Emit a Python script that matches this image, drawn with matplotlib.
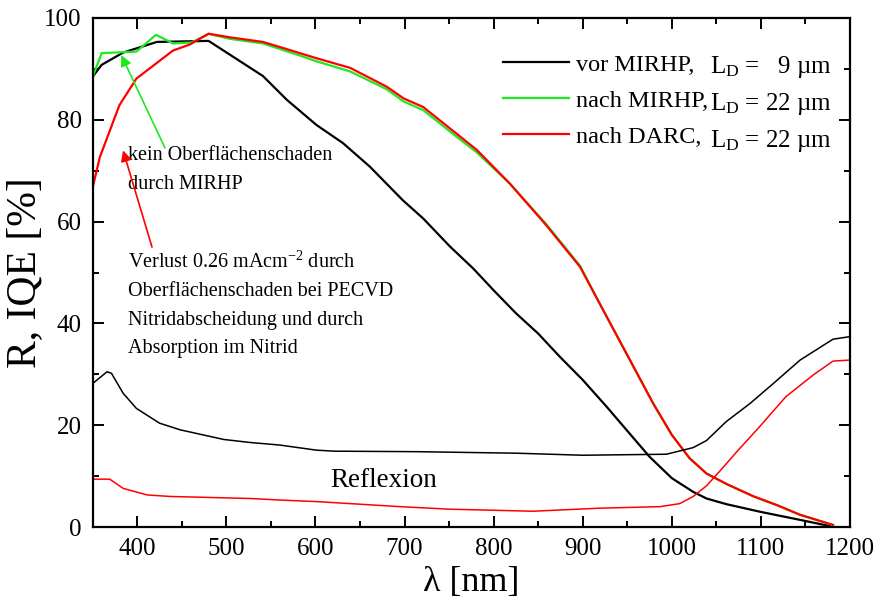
import matplotlib

matplotlib.use("Agg")
from matplotlib import pyplot as plt
from matplotlib.ticker import MultipleLocator

# IQE curves
wl_iqe_vor = [350, 360, 384, 422, 480, 541, 568, 601, 631, 661, 698, 721, 751, 777,
              800, 825, 850, 874, 900, 927, 949, 975, 1000, 1024, 1039, 1061, 1099,
              1144, 1177]
iqe_vor = [88.5, 90.8, 93.2, 95.3, 95.5, 88.6, 83.9, 79.0, 75.4, 70.8, 64.2, 60.6,
           55.1, 50.8, 46.5, 42.0, 38.0, 33.5, 28.9, 23.6, 19.1, 13.8, 9.6, 6.9, 5.6,
           4.5, 3.0, 1.4, 0.2]

wl_iqe_mirhp = [350, 360, 399, 421, 440, 461, 480, 504, 541, 583, 601, 639, 680, 699,
                721, 751, 781, 818, 859, 897, 919, 949, 979, 1000, 1020, 1039, 1062,
                1092, 1118, 1144, 1181]
iqe_mirhp = [88.5, 93.1, 93.4, 96.7, 95.0, 95.2, 96.9, 95.9, 95.0, 92.6, 91.5, 89.5,
             86.0, 83.6, 81.9, 77.7, 73.6, 67.5, 59.5, 51.3, 43.9, 34.1, 24.3, 18.1,
             13.5, 10.5, 8.4, 6.0, 4.3, 2.4, 0.4]

wl_iqe_darc = [350, 358, 380, 399, 440, 459, 480, 504, 541, 575, 601, 639, 680, 699,
               721, 751, 781, 818, 859, 897, 919, 949, 979, 1000, 1020, 1039, 1062,
               1092, 1118, 1144, 1181]
iqe_darc = [66.8, 72.7, 82.9, 88.1, 93.6, 94.8, 96.9, 96.2, 95.3, 93.5, 92.1, 90.2,
            86.5, 84.2, 82.5, 78.3, 74.1, 67.5, 59.3, 51.1, 43.9, 34.1, 24.3, 18.1,
            13.5, 10.5, 8.4, 6.0, 4.3, 2.4, 0.4]

# reflection curves
wl_r_vor = [350, 366, 371, 384, 399, 425, 448, 497, 527, 560, 601, 621, 714, 826, 900,
            994, 1024, 1039, 1061, 1088, 1114, 1144, 1181, 1200]
r_vor = [28.2, 30.5, 30.2, 26.3, 23.3, 20.4, 19.1, 17.2, 16.6, 16.1, 15.1, 14.9, 14.8,
         14.5, 14.1, 14.3, 15.6, 17.0, 20.7, 24.3, 28.2, 32.8, 36.9, 37.4]

wl_r_darc = [350, 369, 384, 411, 437, 527, 560, 601, 695, 751, 844, 919, 987, 1009,
             1024, 1039, 1055, 1073, 1099, 1128, 1159, 1181, 1200]
r_darc = [9.4, 9.4, 7.6, 6.3, 6.0, 5.6, 5.3, 5.0, 4.0, 3.5, 3.1, 3.7, 4.0, 4.6, 6.0,
          8.1, 11.2, 14.8, 19.8, 25.6, 29.9, 32.6, 32.8]

legend_labels = ["vor MIRHP,", "nach MIRHP,", "nach DARC,"]
ld_labels = [r"L$_\mathrm{D}$ =   9 µm", r"L$_\mathrm{D}$ = 22 µm", r"L$_\mathrm{D}$ = 22 µm"]

GREEN = "#1ee81e"
RED = "#ff0000"


def draw_chart(output_file="out.png"):
    plt.rcParams["font.family"] = ["Liberation Serif", "DejaVu Serif"]
    plt.rcParams["mathtext.fontset"] = "custom"
    plt.rcParams["mathtext.rm"] = "Liberation Serif"
    plt.rcParams["mathtext.it"] = "Liberation Serif:italic"

    fig = plt.figure(figsize=(8.81, 6.08), dpi=100)
    ax = fig.add_axes([0.1053, 0.1332, 0.8595, 0.8372])

    l1, = ax.plot(wl_iqe_vor, iqe_vor, color="black", lw=1.6)
    l2, = ax.plot(wl_iqe_mirhp, iqe_mirhp, color=GREEN, lw=1.6)
    l3, = ax.plot(wl_iqe_darc, iqe_darc, color=RED, lw=1.6)
    ax.plot(wl_r_vor, r_vor, color="black", lw=1.1)
    ax.plot(wl_r_darc, r_darc, color=RED, lw=1.1)

    ax.set_xlim(350, 1200)
    ax.set_ylim(0, 100)
    ax.xaxis.set_major_locator(MultipleLocator(100))
    ax.xaxis.set_minor_locator(MultipleLocator(50))
    ax.yaxis.set_major_locator(MultipleLocator(20))
    ax.yaxis.set_minor_locator(MultipleLocator(10))
    ax.tick_params(which="both", direction="in", top=True, right=True,
                   labelsize=18, width=1.4)
    ax.tick_params(which="major", length=8, pad=8)
    ax.tick_params(which="minor", length=4)
    for spine in ax.spines.values():
        spine.set_linewidth(1.6)

    ax.set_xlabel("λ [nm]", fontsize=26, labelpad=4)
    ax.set_ylabel("R, IQE [%]", fontsize=30, labelpad=0)

    ax.legend([l1, l2, l3], legend_labels, loc="upper left",
              bbox_to_anchor=(0.542, 0.93), frameon=False, fontsize=17.5,
              handlelength=2.7, handletextpad=0.3, labelspacing=0.58,
              borderpad=0, borderaxespad=0)
    for i, txt in enumerate(ld_labels):
        ax.text(0.815, 0.904 - i * 0.0727, txt, transform=ax.transAxes,
                fontsize=18, ha="left", va="center")

    ax.annotate("", xy=(382, 92.7), xytext=(431, 74.5),
                arrowprops=dict(arrowstyle="-|>", color=GREEN, lw=1.2,
                                mutation_scale=16, shrinkA=0, shrinkB=0))
    ax.text(390, 70.1, "kein Oberflächenschaden\ndurch MIRHP", fontsize=14.5,
            ha="left", va="center", linespacing=1.7)

    ax.annotate("", xy=(384, 74), xytext=(416.5, 55),
                arrowprops=dict(arrowstyle="-|>", color=RED, lw=1.2,
                                mutation_scale=16, shrinkA=0, shrinkB=0))
    ax.text(390, 43.6,
            "Verlust 0.26 mAcm$^{-2}$ durch\nOberflächenschaden bei PECVD\n"
            "Nitridabscheidung und durch\nAbsorption im Nitrid",
            fontsize=14.5, ha="left", va="center", linespacing=1.68)

    ax.text(676, 9.2, "Reflexion", fontsize=19.5, ha="center", va="center")

    plt.savefig(output_file, dpi=100)


if __name__ == "__main__":
    draw_chart()
